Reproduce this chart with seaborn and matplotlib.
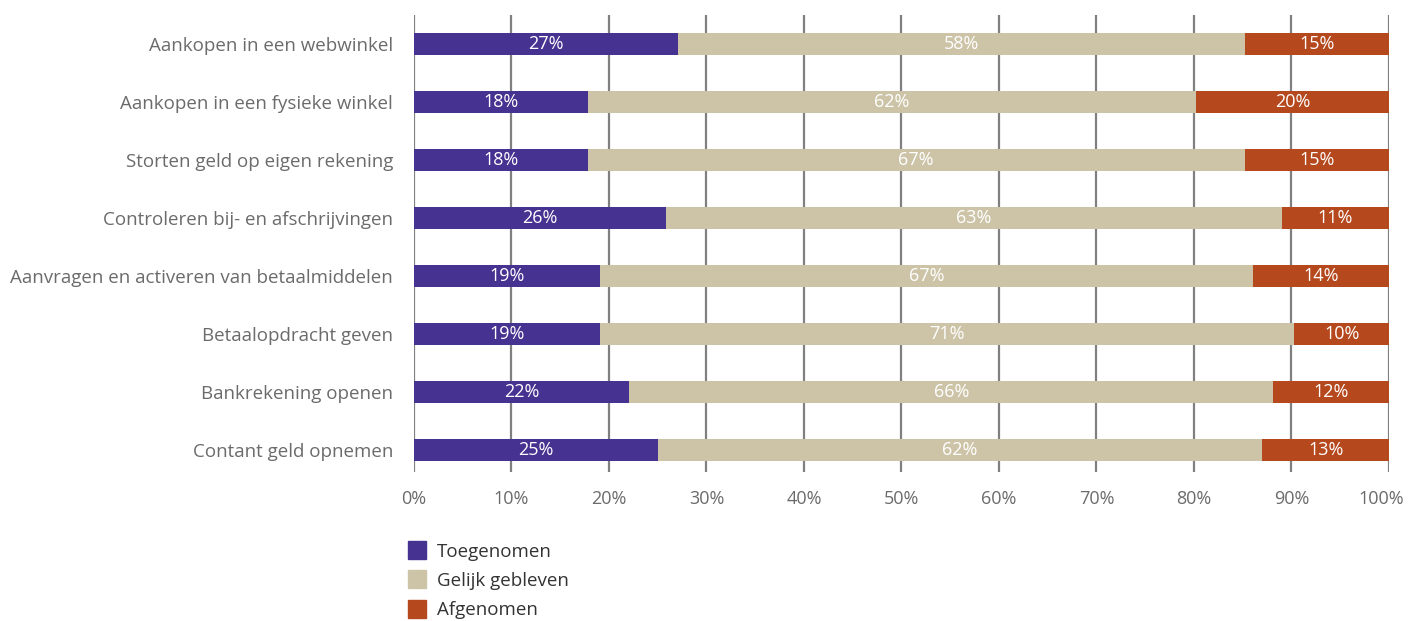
import numpy as np
import pandas as pd
import matplotlib
matplotlib.use('Agg')
import matplotlib.pyplot as plt
import matplotlib.transforms as mtransforms
import seaborn as sns

# Data (shares in %)
categories = [
    'Aankopen in een webwinkel',
    'Aankopen in een fysieke winkel',
    'Storten geld op eigen rekening',
    'Controleren bij- en afschrijvingen',
    'Aanvragen en activeren van betaalmiddelen',
    'Betaalopdracht geven',
    'Bankrekening openen',
    'Contant geld opnemen',
]
toegenomen = [27.1, 17.8, 17.8, 25.9, 19.1, 19.1, 22.1, 25.0]
gelijk = [58.1, 62.4, 67.4, 63.1, 67.0, 71.2, 66.0, 62.0]
afgenomen = [14.8, 19.8, 14.8, 11.0, 13.9, 9.7, 11.9, 13.0]
series_names = ['Toegenomen', 'Gelijk gebleven', 'Afgenomen']
colors = ['#463291', '#CDC4A8', '#B5481D']
x_ticks = list(range(0, 101, 10))

sns.set_style('white')
plt.rcParams['font.family'] = ['Open Sans', 'DejaVu Sans']

df = pd.DataFrame({'categorie': categories, 'Toegenomen': toegenomen,
                   'Gelijk gebleven': gelijk, 'Afgenomen': afgenomen})
df['c1'] = df['Toegenomen']
df['c2'] = df['c1'] + df['Gelijk gebleven']
df['c3'] = df['c2'] + df['Afgenomen']

fig = plt.figure(figsize=(14.08, 6.21), dpi=100)
ax = fig.add_axes([0.294, 0.240, 0.6925, 0.736])

# vertical grid lines behind bars
for t in x_ticks:
    ax.axvline(t, color='#808080', lw=1.6, zorder=0)

# stacked bars drawn as overlapping cumulative bars
for col, c, name in [('c3', colors[2], 'Afgenomen'), ('c2', colors[1], 'Gelijk gebleven'),
                     ('c1', colors[0], 'Toegenomen')]:
    sns.barplot(data=df, x=col, y='categorie', color=c, width=0.38, linewidth=0,
                orient='h', ax=ax, zorder=2, label=name, saturation=1)

# value labels
for i, row in df.iterrows():
    starts = [0, row['c1'], row['c2']]
    for s, name in zip(starts, series_names):
        v = row[name]
        ax.text(s + v / 2, i, f'{v:.0f}%', ha='center', va='center',
                color='white', fontsize=13, zorder=3)

ax.set_xlim(0, 100)
ax.set_ylim(7.38, -0.5)
ax.set_xticks(x_ticks)
ax.set_xticklabels([f'{t}%' for t in x_ticks])
ax.set_xlabel('')
ax.set_ylabel('')
ax.tick_params(axis='x', length=0, pad=13, labelsize=13, labelcolor='#6b6b6b')
ax.tick_params(axis='y', length=0, pad=15, labelsize=13.5, labelcolor='#6b6b6b')
# keep the last tick label inside the figure
last = ax.get_xticklabels()[-1]
last.set_transform(last.get_transform() +
                   mtransforms.ScaledTranslation(-8 / 100, 0, fig.dpi_scale_trans))
for s in ax.spines.values():
    s.set_visible(False)
if ax.get_legend() is not None:
    ax.get_legend().remove()

handles = [plt.Line2D([], [], marker='s', ls='', markersize=12.5, color=c) for c in colors]
fig.legend(handles, series_names, loc='upper left', bbox_to_anchor=(0.2895, 0.126),
           frameon=False, fontsize=13.5, handletextpad=0.55, labelspacing=0.6,
           handlelength=1.0, borderaxespad=0, borderpad=0, labelcolor='#333333')

fig.savefig('out.png', dpi=100)
